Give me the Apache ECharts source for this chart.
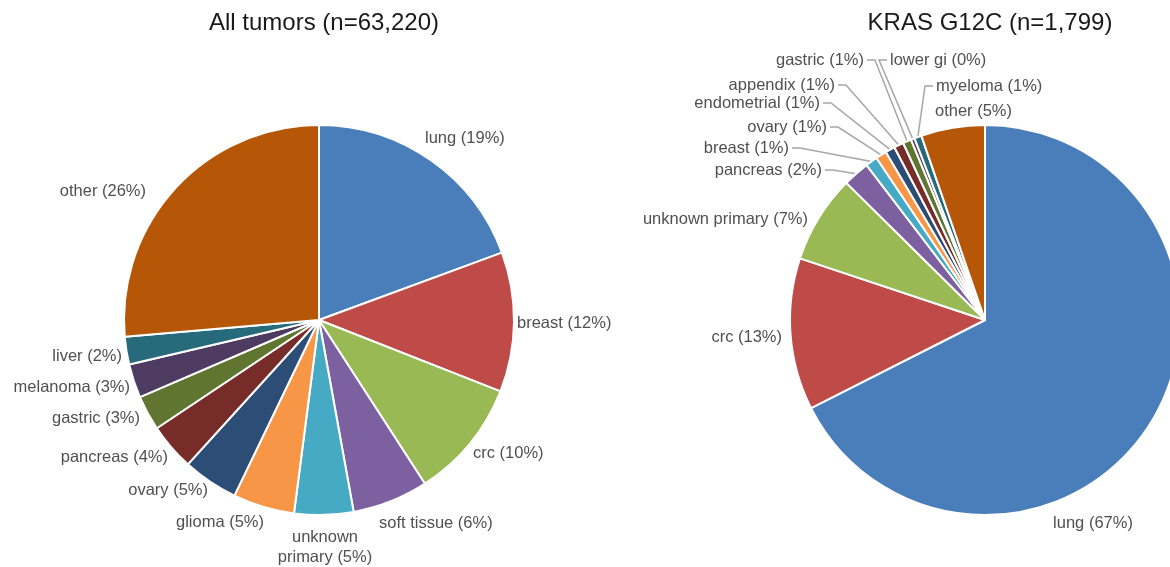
<!DOCTYPE html>
<html>
<head>
<meta charset="utf-8">
<script src="https://cdn.jsdelivr.net/npm/echarts@6/dist/echarts.min.js"></script>
<style>
  html, body { margin: 0; padding: 0; background: #fff; }
  #chart { width: 1170px; height: 567px; }
</style>
</head>
<body>
<div id="chart"></div>
<script>
// colours in series order (office palette)
const palette = ["#4a7ebb", "#be4b48", "#98b954", "#7d60a0", "#46aac5", "#f79646",
                 "#2c4d75", "#772c2a", "#5f7530", "#4d3b62", "#276a7c", "#b65708"];

// all tumors
const allNames = ["lung", "breast", "crc", "soft tissue", "unknown\nprimary", "glioma",
                  "ovary", "pancreas", "gastric", "melanoma", "liver", "other"];
const allValues = [19.4, 11.6, 9.9, 6.3, 4.9, 5.1, 4.6, 3.9, 2.9, 2.8, 2.3, 26.4];
const allPct = [19, 12, 10, 6, 5, 5, 5, 4, 3, 3, 2, 26];

// KRAS G12C
const krasNames = ["lung", "crc", "unknown primary", "pancreas", "breast", "ovary",
                   "endometrial", "appendix", "gastric", "lower gi", "myeloma", "other"];
const krasValues = [67.6, 12.6, 7.3, 2.2, 1.0, 0.9, 0.8, 0.8, 0.7, 0.3, 0.6, 5.3];
const krasPct = [67, 13, 7, 2, 1, 1, 1, 1, 1, 0, 1, 5];

// where the labels sit (text anchor x, y, alignment), as placed in the original
const allLabelAt = [
  [425, 138, "left"], [517, 323, "left"], [473, 453, "left"], [379, 523, "left"],
  [325, 547, "center"], [264, 522, "right"], [208, 490, "right"], [168, 457, "right"],
  [140, 418, "right"], [130, 387, "right"], [122, 356, "right"], [146, 191, "right"]
];
const krasLabelAt = [
  [1093, 523, "center"], [782, 337, "right"], [808, 219, "right"], [822, 170, "right"],
  [789, 148, "right"], [827, 127, "right"], [820, 103, "right"], [835, 85, "right"],
  [864, 60, "right"], [890, 60, "left"], [936, 86, "left"], [935, 111, "left"]
];

const textColor = "#505050";
const font = "'Liberation Sans', Arial, sans-serif";

function makeData(names, values, pct, lineFor) {
  return names.map((n, i) => ({
    name: n,
    value: values[i],
    pct: pct[i],
    itemStyle: { color: palette[i] },
    labelLine: { show: lineFor ? lineFor(i) : false }
  }));
}

const hasLine = i => i >= 3 && i <= 10;

function placeAt(table, withLine) {
  return p => {
    const [x, y, align] = table[p.dataIndex];
    const out = { x, y, align, verticalAlign: "middle" };
    if (withLine && withLine(p.dataIndex) && p.labelLinePoints) {
      const edge = p.labelLinePoints[0];
      const dir = align === "right" ? 1 : -1;
      out.labelLinePoints = [edge, [x + dir * 11, y], [x + dir * 3, y]];
    }
    return out;
  };
}

const labelStyle = {
  position: "outside",
  fontFamily: font, fontSize: 16.5, color: textColor, lineHeight: 20,
  overflow: "none",
  formatter: p => `${p.name} (${p.data.pct}%)`
};

const chart = echarts.init(document.getElementById("chart"), null, { renderer: "canvas" });
chart.setOption({
  animation: false,
  title: [
    { text: "All tumors (n=63,220)", left: 319, top: 6, textAlign: "center",
      textStyle: { fontFamily: font, fontSize: 24, fontWeight: "normal", color: "#1a1a1a" } },
    { text: "KRAS G12C (n=1,799)", left: 985, top: 6, textAlign: "center",
      textStyle: { fontFamily: font, fontSize: 24, fontWeight: "normal", color: "#1a1a1a" } }
  ],
  series: [
    {
      type: "pie",
      center: [319, 320],
      radius: 195,
      startAngle: 90,
      clockwise: true,
      avoidLabelOverlap: false,
      itemStyle: { borderColor: "#fff", borderWidth: 2 },
      label: labelStyle,
      labelLine: { length: 8, length2: 2 },
      labelLayout: placeAt(allLabelAt),
      data: makeData(allNames, allValues, allPct)
    },
    {
      type: "pie",
      center: [985, 320],
      radius: 195,
      startAngle: 90,
      clockwise: true,
      avoidLabelOverlap: false,
      itemStyle: { borderColor: "#fff", borderWidth: 2 },
      label: labelStyle,
      labelLine: { length: 10, length2: 10, lineStyle: { color: "#a6a6a6", width: 1.5 } },
      labelLayout: placeAt(krasLabelAt, hasLine),
      data: makeData(krasNames, krasValues, krasPct, hasLine)
    }
  ]
});
</script>
</body>
</html>
